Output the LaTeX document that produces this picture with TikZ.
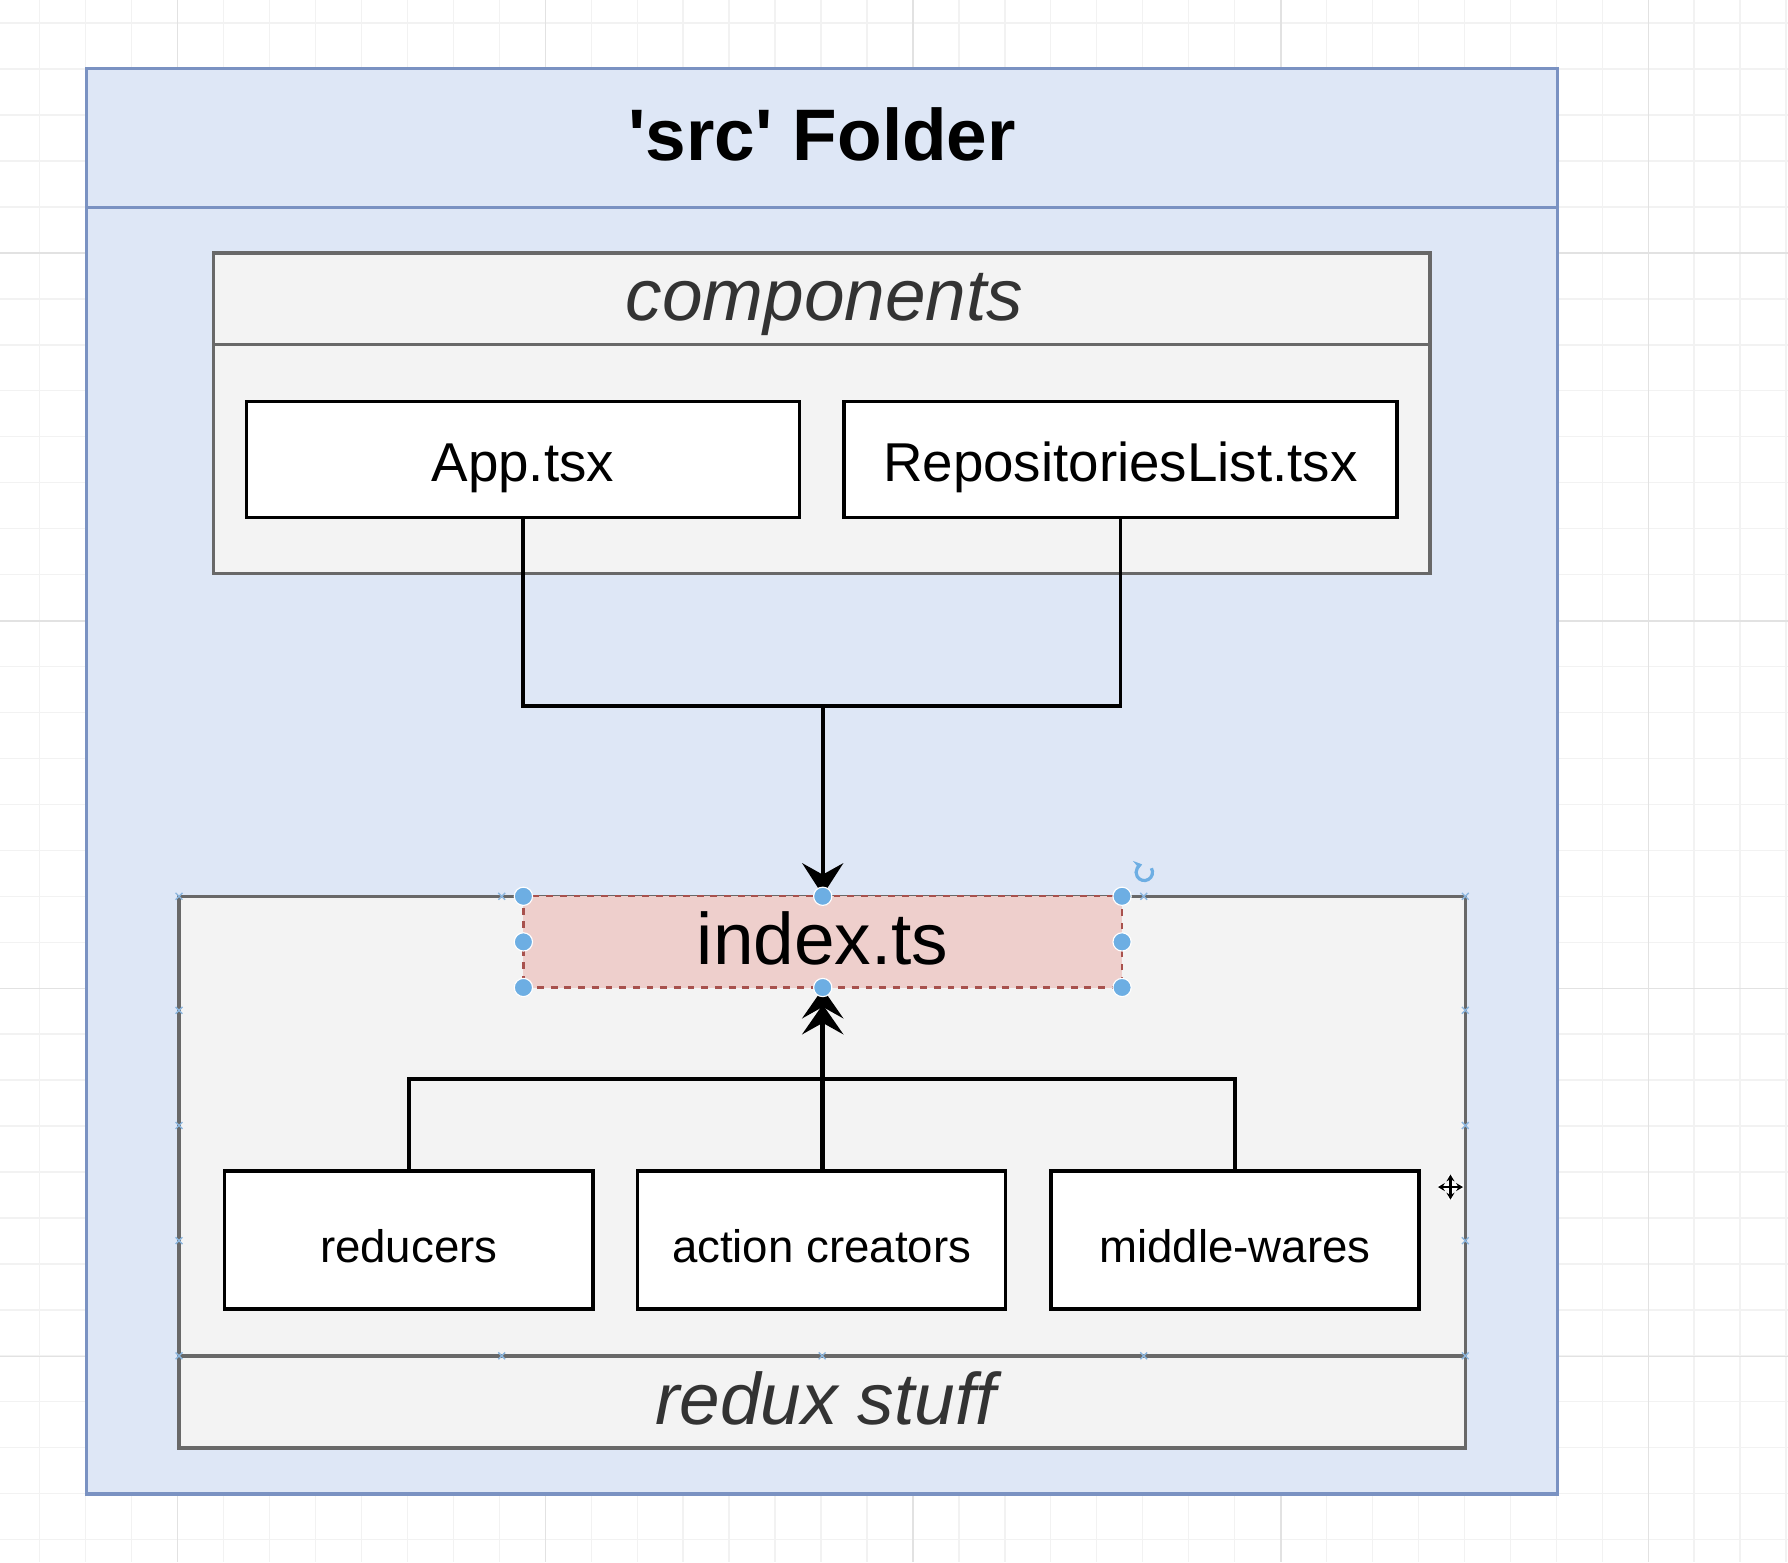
\documentclass[tikz,border=0pt]{standalone}
\usepackage{fontspec}
\setmainfont{Liberation Sans}
\usetikzlibrary{arrows.meta}
\definecolor{gridminor}{HTML}{F2F2F2}
\definecolor{gridmajor}{HTML}{E2E2E2}
\definecolor{srcfill}{HTML}{DEE7F6}
\definecolor{srcline}{HTML}{7A92C2}
\definecolor{grpfill}{HTML}{F3F3F3}
\definecolor{grpline}{HTML}{686868}
\definecolor{idxfill}{HTML}{EECFCC}
\definecolor{idxline}{HTML}{A8514D}
\definecolor{handle}{HTML}{6DAEE3}
\definecolor{pointmark}{HTML}{8CB6DE}
\definecolor{captext}{HTML}{333333}
\begin{document}
\begin{tikzpicture}[x=0.5pt,y=-0.5pt,
  minorline/.style={draw=gridminor,line width=0.6pt},
  majorline/.style={draw=gridmajor,line width=0.7pt},
  srcbox/.style={fill=srcfill,draw=srcline,line width=1.5pt},
  grpbox/.style={fill=grpfill,draw=grpline,line width=1.5pt},
  % the baseline sits 9.75pt below the node centre
  lbl/.style={inner sep=0pt,text height=19.5pt,text depth=0pt},
  filebox/.style={lbl,rectangle,fill=white,draw=black,line width=1.5pt,
    font=\fontsize{24}{28}\selectfont},
  smallbox/.style={filebox,minimum width=161.5pt,minimum height=60.5pt,
    font=\fontsize{20}{24}\selectfont},
  wire/.style={draw=black,line width=1.6pt},
  bighead/.tip={Stealth[length=14pt,width=18pt,inset=5pt]},
  arrowwire/.style={wire,-bighead},
  grab/.style={circle,fill=handle,draw=white,line width=0.5pt,minimum size=8pt,inner sep=0pt},
  pmark/.style={draw=pointmark,line width=0.6pt},
]
\useasboundingbox (0,0) rectangle (1568,1370);
\fill[white] (0,0) rectangle (1568,1370);

% background grid
\foreach \i in {0,...,38} \draw[minorline] ({34.9+40.3*\i},0) -- ({34.9+40.3*\i},1370);
\foreach \i in {0,...,33} \draw[minorline] (0,{20.3+40.3*\i}) -- (1568,{20.3+40.3*\i});
\foreach \i in {0,...,4} \draw[majorline] ({155.8+322.5*\i},0) -- ({155.8+322.5*\i},1370);
\foreach \i in {0,...,3} \draw[majorline] (0,{222+322.5*\i}) -- (1568,{222+322.5*\i});

% src folder
\draw[srcbox] (76,60) rectangle (1366,1310);
\draw[draw=srcline,line width=1.5pt] (76,182) -- (1366,182);
\node[lbl,font=\bfseries\fontsize{32}{38}\selectfont] (title) at (721,121) {\textquotesingle src\textquotesingle{} Folder};

% components group
\draw[grpbox] (187,222) rectangle (1254,503);
\draw[draw=grpline,line width=1.5pt] (187,302) -- (1254,302);
\node[lbl,font=\itshape\fontsize{32}{38}\selectfont,text=captext] (comp) at (723,262) {components};

\node[filebox,minimum width=242.5pt,minimum height=51pt] (app) at (458.5,403) {App.tsx};
\node[filebox,minimum width=242.5pt,minimum height=51pt] (repo) at (982.5,403) {RepositoriesList.tsx};

% redux group
\draw[grpbox] (157,786) rectangle (1285,1270);
\draw[draw=grpline,line width=1.5pt] (157,1189) -- (1285,1189);
\node[lbl,font=\itshape\fontsize{32}{38}\selectfont,text=captext] (redux) at (724,1229.5) {redux stuff};

\node[lbl,rectangle,fill=idxfill,draw=idxline,dashed,line width=1pt,
  minimum width=262.5pt,minimum height=40pt,font=\fontsize{32}{38}\selectfont] (index) at (721.5,826) {index.ts};

\node[smallbox] (red) at (358.5,1087.5) {reducers};
\node[smallbox] (act) at (720.5,1087.5) {action creators};
\node[smallbox] (mid) at (1083,1087.5) {middle-wares};

% connectors
\coordinate (jtop) at (721.5,619);
\coordinate (jbot) at (721.5,946);
\draw[wire] (app.south) |- (jtop) -| (repo.south);
\draw[arrowwire] (jtop) -- (index.north);
\draw[wire] (red.north) |- (jbot) -| (mid.north);
\draw[wire,line width=2pt,-{Stealth[length=13pt,width=18pt,inset=5pt,sep=-6pt]Stealth[length=13pt,width=18pt,inset=5pt]}]
  (act.north -| jbot) -- (index.south);

% connection point marks on the redux group
\foreach \px/\py in {157/786,157/886,157/987,157/1088,157/1189,440/786,1003/786,1285/786,
  1285/886,1285/987,1285/1088,1285/1189,440/1189,721/1189,1003/1189}
  \draw[pmark] (\px-3,\py-3) -- (\px+3,\py+3) (\px-3,\py+3) -- (\px+3,\py-3);

% selection handles
\foreach \nm/\px/\py in {h1/459/786,h2/721.5/786,h3/984/786,h4/459/826,h5/984/826,h6/459/866,h7/721.5/866,h8/984/866}
  \node[grab] (\nm) at (\px,\py) {};
\coordinate (rot) at (1003.5,765);
\draw[draw=handle,line width=1.4pt,-{Stealth[length=3.5pt,width=5pt]}]
  ([shift={(30:3.6pt)}]rot) arc[start angle=30,end angle=-255,radius=3.6pt];

% move cursor
\coordinate (cur) at (1272,1041);
\draw[white,line width=2.6pt] ([xshift=-5.5pt]cur) -- ([xshift=5.5pt]cur) ([yshift=-5.5pt]cur) -- ([yshift=5.5pt]cur);
\draw[black,line width=1pt,{Stealth[length=3pt,width=3.5pt]}-{Stealth[length=3pt,width=3.5pt]}] ([xshift=-5.5pt]cur) -- ([xshift=5.5pt]cur);
\draw[black,line width=1pt,{Stealth[length=3pt,width=3.5pt]}-{Stealth[length=3pt,width=3.5pt]}] ([yshift=-5.5pt]cur) -- ([yshift=5.5pt]cur);
\end{tikzpicture}
\end{document}
